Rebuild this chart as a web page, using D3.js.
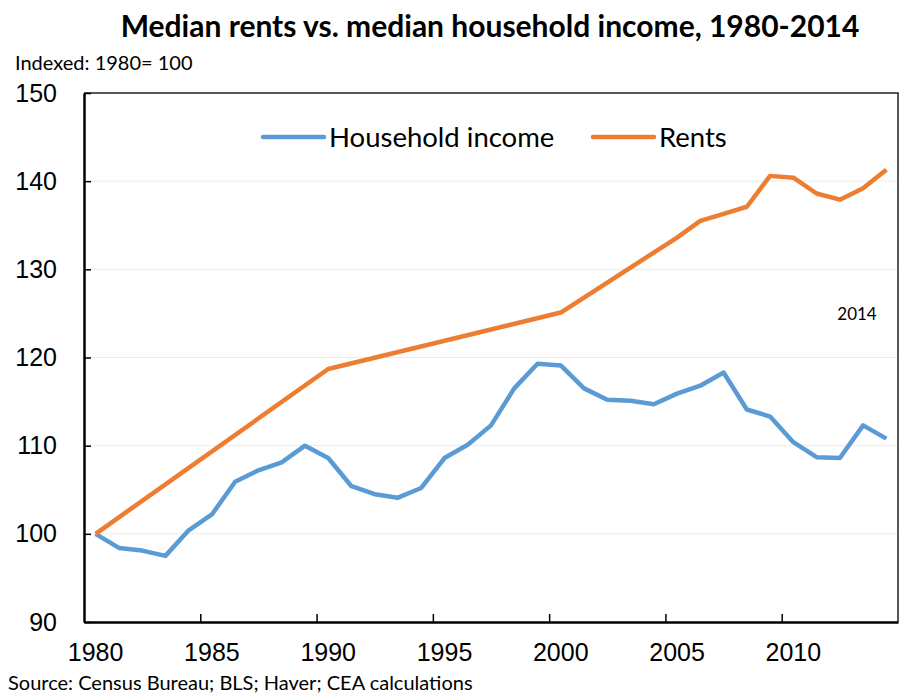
<!DOCTYPE html>
<html>
<head>
<meta charset="utf-8">
<script src="https://cdn.jsdelivr.net/npm/d3@7"></script>
<style>
  body { margin: 0; background: #fff; }
  svg { font-family: Lato, "Open Sans", sans-serif; }
</style>
</head>
<body>
<div id="chart"></div>
<script>
// years on the category axis
const years = d3.range(1980, 2015);
const labelYears = [1980, 1985, 1990, 1995, 2000, 2005, 2010];
const tickYears = [1985, 1990, 1995, 2000, 2005, 2010];
const yTicks = [90, 100, 110, 120, 130, 140, 150];

// Household income index, 1980..2014
const income = [100.0, 98.4, 98.1, 97.5, 100.4, 102.2, 105.9, 107.2, 108.1, 110.0,
  108.6, 105.4, 104.5, 104.1, 105.2, 108.6, 110.1, 112.3, 116.5, 119.3,
  119.1, 116.5, 115.2, 115.1, 114.7, 115.9, 116.8, 118.3, 114.1, 113.3,
  110.4, 108.7, 108.6, 112.3, 110.8];

// Median rents index (census years, then annual from 2005)
const rentYears = [1980, 1990, 2000, 2005, 2006, 2007, 2008, 2009, 2010, 2011, 2012, 2013, 2014];
const rents = [100.0, 118.7, 125.1, 133.6, 135.5, 136.3, 137.1, 140.6, 140.4, 138.6, 137.9, 139.2, 141.3];

const seriesNames = ["Household income", "Rents"];
const colors = ["#5B9BD5", "#ED7D31"];

const W = 899, H = 694;
const plot = { left: 84, right: 898, top: 93, bottom: 622 };

const svg = d3.select("#chart").append("svg")
  .attr("width", W).attr("height", H);

// scales
const x = d3.scaleBand().domain(years).range([plot.left, plot.right]).padding(0);
const xEdge = d3.scaleLinear().domain([1980, 2015]).range([plot.left, plot.right]);
const y = d3.scaleLinear().domain([90, 150]).range([plot.bottom, plot.top]);
const xc = (yr) => x(yr) + x.bandwidth() / 2;

// gridlines
svg.append("g")
  .selectAll("line")
  .data(yTicks.filter((v) => v > 90 && v < 150))
  .join("line")
  .attr("x1", plot.left).attr("x2", plot.right)
  .attr("y1", (d) => y(d)).attr("y2", (d) => y(d))
  .attr("stroke", "#ececec").attr("stroke-width", 1);

// plot frame (top / right)
svg.append("path")
  .attr("d", `M${plot.left},${plot.top}H${plot.right}V${plot.bottom}`)
  .attr("fill", "none").attr("stroke", "#222").attr("stroke-width", 1.5);

// y axis
const yAxisG = svg.append("g")
  .attr("transform", `translate(${plot.left},0)`)
  .call(d3.axisLeft(y).tickValues(yTicks).tickSizeInner(-7).tickSizeOuter(0).tickPadding(27));
yAxisG.select(".domain").attr("stroke", "#000").attr("stroke-width", 2.5);
yAxisG.selectAll(".tick line").attr("stroke", "#000").attr("stroke-width", 1.5);
yAxisG.selectAll("text").attr("font-size", 25).attr("fill", "#000");

// x axis tick marks (between categories)
const xTickG = svg.append("g")
  .attr("transform", `translate(0,${plot.bottom})`)
  .call(d3.axisBottom(xEdge).tickValues(tickYears).tickSizeInner(-8).tickSizeOuter(0).tickFormat(""));
xTickG.select(".domain").remove();
xTickG.selectAll(".tick line").attr("stroke", "#000").attr("stroke-width", 1.5);

// x axis labels (category centres)
const xAxisG = svg.append("g")
  .attr("transform", `translate(0,${plot.bottom})`)
  .call(d3.axisBottom(x).tickValues(labelYears).tickSize(0).tickPadding(21));
xAxisG.select(".domain").attr("stroke", "#000").attr("stroke-width", 2.5);
xAxisG.selectAll("text").attr("font-size", 25).attr("fill", "#000");

// lines
const line = d3.line().x((d) => xc(d[0])).y((d) => y(d[1]));
const incomeData = years.map((yr, i) => [yr, income[i]]);
const rentData = rentYears.map((yr, i) => [yr, rents[i]]);

[incomeData, rentData].forEach((data, i) => {
  svg.append("path")
    .datum(data)
    .attr("fill", "none")
    .attr("stroke", colors[i])
    .attr("stroke-width", 4.5)
    .attr("stroke-linejoin", "round")
    .attr("d", line);
});

// legend
const legendX = [263, 593];
seriesNames.forEach((name, i) => {
  const g = svg.append("g").attr("transform", `translate(${legendX[i]},137)`);
  g.append("line").attr("x1", 0).attr("x2", 61)
    .attr("stroke", colors[i]).attr("stroke-width", 4.5).attr("stroke-linecap", "round");
  g.append("text").attr("x", 66).attr("y", 10)
    .attr("font-size", 27.5).attr("fill", "#000").text(name);
});

// annotation
svg.append("text").attr("x", 857).attr("y", 320).attr("text-anchor", "middle")
  .attr("font-size", 17).attr("fill", "#000").text("2014");

// titles
svg.append("text").attr("x", 490).attr("y", 37).attr("text-anchor", "middle")
  .attr("font-size", 30).attr("font-weight", "bold").attr("fill", "#000")
  .text("Median rents vs. median household income, 1980-2014");

svg.append("text").attr("x", 15).attr("y", 70)
  .attr("font-size", 20).attr("fill", "#000").text("Indexed: 1980= 100");

svg.append("text").attr("x", 8).attr("y", 690)
  .attr("font-size", 20).attr("fill", "#000")
  .text("Source: Census Bureau; BLS; Haver; CEA calculations");
</script>
</body>
</html>
